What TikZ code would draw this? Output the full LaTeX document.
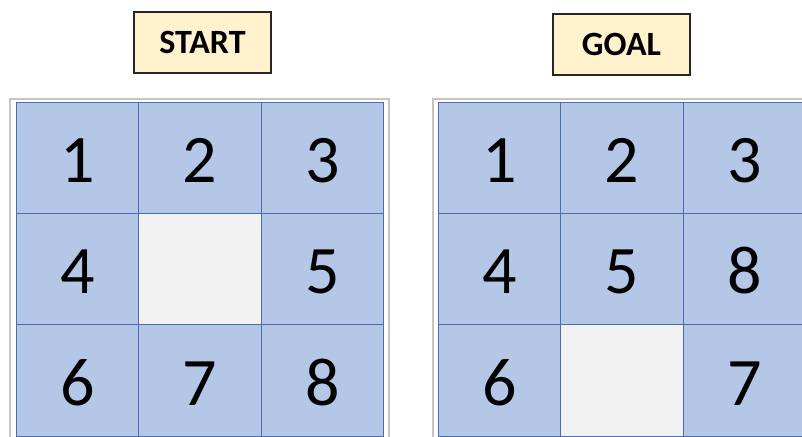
\documentclass[tikz,border=0pt]{standalone}
\usepackage{fontspec}
\setmainfont{Carlito}
\definecolor{tileblue}{HTML}{B4C7E7}
\definecolor{tileline}{HTML}{4A6DAE}
\definecolor{blankgray}{HTML}{F2F2F2}
\definecolor{framegray}{HTML}{C4C4C4}
\definecolor{labelfill}{HTML}{FFF2CC}
\begin{document}
\begin{tikzpicture}[x=1bp,y=-1bp,
  tile/.style={draw=tileline,line width=1bp,fill=tileblue,minimum width=122.5bp,minimum height=111bp,inner sep=0pt,
    font=\fontsize{68bp}{68bp}\selectfont,text height=49bp,text depth=0bp},
  blank/.style={tile,fill=blankgray},
  titlebox/.style={draw=black!85,line width=1.3bp,fill=labelfill,minimum width=137bp,minimum height=61bp,inner sep=0pt,
    font=\fontsize{34bp}{34bp}\selectfont\bfseries,text height=22bp,text depth=0bp},
  frame/.style={draw=framegray,line width=1.8bp}]
\useasboundingbox (0,0) rectangle (802,437);
\clip (0,0) rectangle (802,437);
\fill[white] (0,0) rectangle (802,437);
% frames
\draw[frame] (10,99) rectangle (389,445);
\draw[frame] (433,99) rectangle (820,445);
% titles
\node[titlebox] (start) at (202.5,42.5) {START};
\node[titlebox] (goal) at (621.5,44.5) {GOAL};
% start grid
\node[tile] (s11) at (77.3,158.5) {1};
\node[tile] (s12) at (200,158.5) {2};
\node[tile] (s13) at (322.5,158.5) {3};
\node[tile] (s21) at (77.3,269.5) {4};
\node[blank] (s22) at (200,269.5) {};
\node[tile] (s23) at (322.5,269.5) {5};
\node[tile] (s31) at (77.3,380.5) {6};
\node[tile] (s32) at (200,380.5) {7};
\node[tile] (s33) at (322.5,380.5) {8};
% goal grid
\node[tile] (g11) at (499.5,158.5) {1};
\node[tile] (g12) at (622,158.5) {2};
\node[tile] (g13) at (744.5,158.5) {3};
\node[tile] (g21) at (499.5,269.5) {4};
\node[tile] (g22) at (622,269.5) {5};
\node[tile] (g23) at (744.5,269.5) {8};
\node[tile] (g31) at (499.5,380.5) {6};
\node[blank] (g32) at (622,380.5) {};
\node[tile] (g33) at (744.5,380.5) {7};
\end{tikzpicture}
\end{document}
